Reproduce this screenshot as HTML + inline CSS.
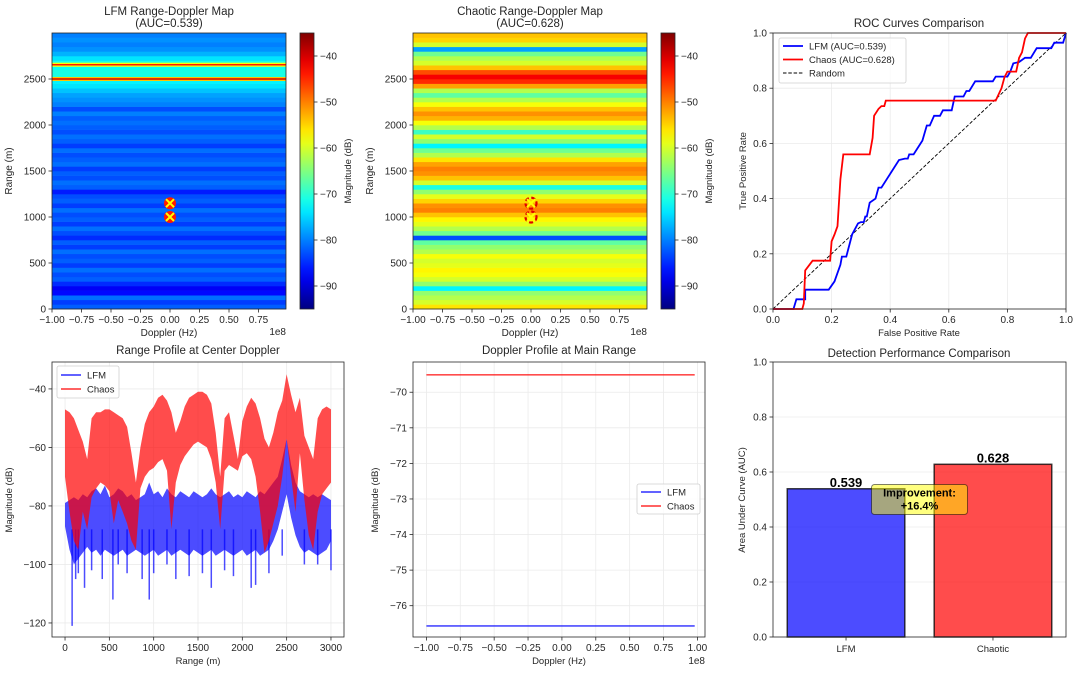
<!DOCTYPE html>
<html><head><meta charset="utf-8"><title>Radar comparison</title>
<style>html,body{margin:0;padding:0;background:#fff}svg{display:block;font-family:"Liberation Sans","DejaVu Sans",sans-serif}</style>
</head><body>
<svg id="fig" width="1080" height="673" viewBox="0 0 1080 673" xmlns="http://www.w3.org/2000/svg">
<defs id="defs"></defs>
</svg>
<script>
// ---------- DATA ----------
const lfmRowStart = 0, rowStep = 50;
const lfmRows = [-82,-84,-81,-87,-88,-85,-82,-83,-81,-84,-82,-83,-81,-84,-82,-85,-83,-81,-84,-82,-83,-81,-84,-82,-83,-86,-82,-81,-83,-82,-84,-81,-82,-83,-81,-84,-82,-81,-83,-82,-81,-82,-80,-83,-80,-79,-78,-76,-74,-73,-71,-71,-72,-71,-74,-77,-79,-80,-79,-80];
const lfmPeakRanges = [2500, 2655];
const lfmPeakDb = [-40, -44];
const chaosRows = [-56,-60,-62,-64,-73,-64,-60,-58,-57,-59,-60,-58,-62,-64,-67,-83,-66,-62,-59,-57,-54,-50,-51,-55,-59,-64,-71,-60,-54,-51,-50,-52,-56,-62,-66,-73,-64,-60,-69,-62,-58,-53,-51,-54,-58,-62,-67,-62,-52,-45,-42,-47,-54,-60,-62,-66,-78,-60,-55,-54];
const targetRanges = [1000, 1150];
const targetDoppler = [0, 0];

const rocLfmFpr = [0,0.07,0.08,0.11,0.11,0.19,0.21,0.23,0.235,0.25,0.27,0.29,0.3,0.31,0.315,0.32,0.33,0.35,0.36,0.37,0.43,0.45,0.46,0.465,0.48,0.51,0.525,0.535,0.55,0.57,0.58,0.61,0.62,0.65,0.66,0.67,0.69,0.75,0.76,0.8,0.81,0.82,0.84,0.86,0.88,0.9,0.95,0.96,0.99,1];
const rocLfmTpr = [0,0,0.035,0.035,0.07,0.07,0.1,0.16,0.19,0.19,0.27,0.31,0.315,0.315,0.335,0.335,0.385,0.4,0.44,0.44,0.54,0.545,0.545,0.56,0.56,0.61,0.665,0.665,0.7,0.7,0.72,0.72,0.77,0.77,0.79,0.79,0.825,0.825,0.842,0.842,0.86,0.89,0.895,0.91,0.91,0.945,0.945,0.965,0.965,1];
const rocChaosFpr = [0,0.1,0.105,0.11,0.135,0.195,0.2,0.21,0.22,0.23,0.24,0.33,0.34,0.345,0.36,0.37,0.38,0.385,0.76,0.78,0.79,0.8,0.83,0.84,0.85,0.86,0.87,1];
const rocChaosTpr = [0,0,0.02,0.14,0.175,0.175,0.245,0.27,0.3,0.47,0.56,0.56,0.62,0.7,0.725,0.735,0.735,0.755,0.755,0.8,0.84,0.86,0.86,0.91,0.93,0.98,1,1];

const profRangeStart = 0, profStep = 50;
const chaosUpper = [-47,-48,-50,-54,-58,-64,-50,-48,-48,-47,-47,-48,-49,-50,-53,-62,-72,-60,-52,-48,-46,-43,-42,-44,-48,-55,-51,-46,-43,-42,-41,-41,-42,-45,-55,-70,-50,-48,-56,-64,-51,-46,-43,-45,-50,-57,-60,-55,-48,-44,-35,-42,-48,-43,-56,-60,-64,-50,-47,-46,-47];
const chaosLower = [-70,-82,-92,-95,-82,-88,-77,-74,-72,-73,-75,-86,-78,-82,-86,-92,-95,-74,-70,-68,-67,-65,-64,-68,-88,-72,-66,-63,-61,-59,-58,-59,-60,-64,-72,-88,-68,-66,-67,-68,-63,-62,-64,-70,-82,-96,-92,-86,-80,-70,-57,-70,-82,-62,-78,-90,-95,-82,-76,-74,-72];
const lfmUpper = [-79,-78,-77,-78,-76,-77,-75,-74,-76,-73,-77,-76,-74,-75,-77,-76,-78,-77,-76,-72,-76,-75,-77,-74,-76,-77,-75,-76,-77,-75,-76,-77,-76,-74,-76,-77,-76,-75,-77,-76,-77,-75,-76,-77,-75,-76,-74,-72,-70,-64,-57,-66,-72,-75,-76,-77,-76,-77,-76,-77,-78];
const lfmLower = [-87,-95,-100,-98,-96,-94,-96,-95,-97,-95,-96,-97,-96,-95,-97,-96,-95,-96,-97,-96,-95,-97,-96,-95,-97,-96,-95,-96,-97,-95,-96,-97,-96,-95,-97,-96,-95,-96,-97,-96,-95,-97,-96,-95,-97,-96,-95,-92,-88,-82,-76,-84,-90,-94,-96,-95,-96,-97,-96,-95,-92];
const lfmDipRanges = [80,120,150,220,300,420,540,600,700,870,950,1000,1150,1250,1400,1550,1650,1800,1900,2100,2150,2300,2450,2700,2850,3000];
const lfmDipDb = [-121,-105,-103,-108,-102,-105,-112,-100,-103,-105,-112,-103,-100,-105,-104,-103,-108,-102,-104,-108,-107,-103,-97,-100,-100,-102];

const dopplerX = [-1.0, 0.98];
const dopplerLfm = [-76.57, -76.57];
const dopplerChaos = [-69.51, -69.51];

const barCategories = ['LFM', 'Chaotic'];
const barValues = [0.539, 0.628];
const improvementText = ['Improvement:', '+16.4%'];

// ---------- helpers ----------
const NS = 'http://www.w3.org/2000/svg';
const svg = document.getElementById('fig');
const defs = document.getElementById('defs');
function el(tag, attrs, name, parent) {
  const e = document.createElementNS(NS, tag);
  for (const k in attrs) e.setAttribute(k, attrs[k]);
  
  
  (parent || svg).appendChild(e);
  return e;
}
function txt(x, y, s, name, o) {
  o = o || {};
  const a = {x: x, y: y, 'font-size': o.size || 10, fill: o.fill || '#262626', 'text-anchor': o.anchor || 'middle'};
  if (o.weight) a['font-weight'] = o.weight;
  if (o.rot) a.transform = 'rotate(' + o.rot + ' ' + x + ' ' + y + ')';
  const t = el('text', a, name);
  t.textContent = s;
  return t;
}
const M = v => (v < 0 ? '\u2212' : '') + Math.abs(v);
function fmt(v, d) { const s = Math.abs(v).toFixed(d); return (v < -1e-9 ? '\u2212' : '') + s; }
function jet(t) {
  t = Math.max(0, Math.min(1, t));
  const c = x => Math.round(255 * Math.max(0, Math.min(1, x)));
  return 'rgb(' + c(1.5 - Math.abs(4 * t - 3)) + ',' + c(1.5 - Math.abs(4 * t - 2)) + ',' + c(1.5 - Math.abs(4 * t - 1)) + ')';
}
const vmin = -95, vmax = -35;
const cmap = v => jet((v - vmin) / (vmax - vmin));
function scales(box, xd, yd) {
  return {
    sx: v => box.l + (v - xd[0]) / (xd[1] - xd[0]) * (box.r - box.l),
    sy: v => box.b - (v - yd[0]) / (yd[1] - yd[0]) * (box.b - box.t)
  };
}
function grid(p, box, s, xt, yt) {
  xt.forEach(v => el('line', {x1: s.sx(v), x2: s.sx(v), y1: box.t, y2: box.b, stroke: '#ebebeb', 'stroke-width': 0.8}, p + '-x-grid'));
  yt.forEach(v => el('line', {x1: box.l, x2: box.r, y1: s.sy(v), y2: s.sy(v), stroke: '#ebebeb', 'stroke-width': 0.8}, p + '-y-grid'));
}
function frame(p, box, s, xt, yt, xf, yf) {
  el('rect', {x: box.l, y: box.t, width: box.r - box.l, height: box.b - box.t, fill: 'none', stroke: '#262626', 'stroke-width': 0.8}, p + '-frame');
  xt.forEach(v => {
    const x = s.sx(v);
    el('line', {x1: x, x2: x, y1: box.b, y2: box.b + 3.5, stroke: '#262626', 'stroke-width': 0.8}, p + '-x-tick');
    txt(x, box.b + 14, xf(v), p + '-x-tick-label');
  });
  yt.forEach(v => {
    const y = s.sy(v);
    el('line', {x1: box.l, x2: box.l - 3.5, y1: y, y2: y, stroke: '#262626', 'stroke-width': 0.8}, p + '-y-tick');
    txt(box.l - 6, y + 3.5, yf(v), p + '-y-tick-label', {anchor: 'end'});
  });
}
const range = (a, b, st) => { const r = []; for (let v = a; v <= b + 1e-9; v += st) r.push(+v.toFixed(6)); return r; };

const grad = el('linearGradient', {id: 'jetgrad', x1: 0, y1: 1, x2: 0, y2: 0}, 'jet-gradient', defs);
for (let i = 0; i <= 20; i++) el('stop', {offset: i / 20, 'stop-color': jet(i / 20)}, 'gradient-stop', grad);

// ---------- heatmap panels ----------
function heatmap(p, box, rows, title, cbx, peaksR, peaksD, dashed) {
  const s = scales(box, [-1, 0.983], [0, 3000]);
  rows.forEach((v, i) => {
    const r0 = lfmRowStart + i * rowStep;
    el('rect', {x: box.l, y: s.sy(r0 + rowStep), width: box.r - box.l, height: s.sy(r0) - s.sy(r0 + rowStep) + 0.3, fill: cmap(v)}, p + '-row');
  });
  peaksR.forEach((r, i) => {
    el('rect', {x: box.l, y: s.sy(r + 22), width: box.r - box.l, height: s.sy(r - 22) - s.sy(r + 22), fill: cmap(peaksD[i] - 14)}, p + '-peak-halo');
    el('rect', {x: box.l, y: s.sy(r + 8), width: box.r - box.l, height: s.sy(r - 8) - s.sy(r + 8), fill: cmap(peaksD[i])}, p + '-peak-line');
  });
  targetRanges.forEach((r, i) => {
    const cx = s.sx(targetDoppler[i]), cy = s.sy(r);
    if (dashed) el('circle', {cx: cx, cy: cy, r: 5.5, fill: 'none', stroke: '#e00000', 'stroke-width': 2.2, 'stroke-dasharray': '4 2.5'}, p + '-target-circle');
    else el('circle', {cx: cx, cy: cy, r: 6, fill: '#ff1a00'}, p + '-target-circle');
    el('path', {d: 'M' + (cx - 4) + ' ' + (cy - 4) + 'L' + (cx + 4) + ' ' + (cy + 4) + 'M' + (cx + 4) + ' ' + (cy - 4) + 'L' + (cx - 4) + ' ' + (cy + 4), stroke: '#ffff00', 'stroke-width': 2}, p + '-target-x');
  });
  frame(p, box, s, range(-1, 0.75, 0.25), range(0, 2500, 500), v => fmt(v, 2), v => String(v));
  txt(box.r, box.b + 26, '1e8', p + '-x-offset', {anchor: 'end'});
  txt((box.l + box.r) / 2, box.b + 27, 'Doppler (Hz)', p + '-x-axis-title');
  txt(box.l - 40, (box.t + box.b) / 2, 'Range (m)', p + '-y-axis-title', {rot: -90});
  txt((box.l + box.r) / 2, 15, title, p + '-title', {size: 11.5});
  txt((box.l + box.r) / 2, 27, '(AUC=' + (p === 'lfm-map' ? barValues[0] : barValues[1]).toFixed(3) + ')', p + '-subtitle', {size: 11.5});
  el('rect', {x: cbx, y: box.t, width: 14, height: box.b - box.t, fill: 'url(#jetgrad)', stroke: '#262626', 'stroke-width': 0.8}, p + '-colorbar');
  const cs = v => box.b - (v - vmin) / (vmax - vmin) * (box.b - box.t);
  [-90, -80, -70, -60, -50, -40].forEach(v => {
    el('line', {x1: cbx + 14, x2: cbx + 17.5, y1: cs(v), y2: cs(v), stroke: '#262626', 'stroke-width': 0.8}, p + '-colorbar-tick');
    txt(cbx + 20, cs(v) + 3.5, M(v), p + '-colorbar-tick-label', {anchor: 'start'});
  });
  txt(cbx + 51, (box.t + box.b) / 2, 'Magnitude (dB)', p + '-colorbar-title', {rot: -90, size: 9.5});
}
heatmap('lfm-map', {l: 52, t: 33, r: 286, b: 309}, lfmRows, 'LFM Range-Doppler Map', 300, lfmPeakRanges, lfmPeakDb, false);
heatmap('chaos-map', {l: 413, t: 33, r: 647, b: 309}, chaosRows, 'Chaotic Range-Doppler Map', 661, [], [], true);

// ---------- ROC ----------
(function () {
  const p = 'roc', box = {l: 773, t: 33, r: 1066, b: 309};
  const s = scales(box, [0, 1], [0, 1]);
  const t = range(0, 1, 0.2);
  grid(p, box, s, t, t);
  el('line', {x1: s.sx(0), y1: s.sy(0), x2: s.sx(1), y2: s.sy(1), stroke: '#000', 'stroke-width': 0.9, 'stroke-dasharray': '3.5 1.8'}, 'roc-random-line');
  const pl = (xs, ys) => xs.map((v, i) => s.sx(v).toFixed(1) + ',' + s.sy(ys[i]).toFixed(1)).join(' ');
  el('polyline', {points: pl(rocLfmFpr, rocLfmTpr), fill: 'none', stroke: '#0000ff', 'stroke-width': 1.8}, 'roc-lfm-curve');
  el('polyline', {points: pl(rocChaosFpr, rocChaosTpr), fill: 'none', stroke: '#ff0000', 'stroke-width': 1.8}, 'roc-chaos-curve');
  frame(p, box, s, t, t, v => v.toFixed(1), v => v.toFixed(1));
  txt(919, 27, 'ROC Curves Comparison', 'roc-title', {size: 11.5});
  txt(919, 336, 'False Positive Rate', 'roc-x-axis-title', {size: 9.5});
  txt(746, 171, 'True Positive Rate', 'roc-y-axis-title', {rot: -90, size: 9.5});
  el('rect', {x: 779, y: 38, width: 127, height: 45, rx: 2, fill: '#fff', 'fill-opacity': 0.8, stroke: '#d0d0d0', 'stroke-width': 0.8}, 'roc-legend');
  const L = [['LFM (AUC=0.539)', '#0000ff', null], ['Chaos (AUC=0.628)', '#ff0000', null], ['Random', '#000', '3.5 1.8']];
  L.forEach((e, i) => {
    const y = 46 + i * 13.5;
    const a = {x1: 783, x2: 803, y1: y, y2: y, stroke: e[1], 'stroke-width': e[2] ? 0.9 : 1.8};
    if (e[2]) a['stroke-dasharray'] = e[2];
    el('line', a, 'roc-legend-swatch');
    txt(809, y + 3.5, e[0], 'roc-legend-label', {anchor: 'start', size: 9.5});
  });
})();

// ---------- Range profile ----------
(function () {
  const p = 'range-profile', box = {l: 52, t: 362, r: 344, b: 637};
  const s = scales(box, [-147, 3147], [-124.8, -30.8]);
  const xt = range(0, 3000, 500), yt = range(-120, -40, 20);
  grid(p, box, s, xt, yt);
  const band = (up, lo, step) => {
    let d = '';
    up.forEach((v, i) => { d += (i ? 'L' : 'M') + s.sx(i * step).toFixed(1) + ' ' + s.sy(v).toFixed(1); });
    for (let i = lo.length - 1; i >= 0; i--) d += 'L' + s.sx(i * step).toFixed(1) + ' ' + s.sy(lo[i]).toFixed(1);
    return d + 'Z';
  };
  el('path', {d: band(lfmUpper, lfmLower, profStep), fill: '#0000ff', 'fill-opacity': 0.7}, 'lfm-profile-band');
  lfmDipRanges.forEach((r, i) => {
    el('line', {x1: s.sx(r), x2: s.sx(r), y1: s.sy(-88), y2: s.sy(lfmDipDb[i]), stroke: '#0000ff', 'stroke-opacity': 0.7, 'stroke-width': 1.5}, 'lfm-profile-dip');
  });
  el('path', {d: band(chaosUpper, chaosLower, profStep), fill: '#ff0000', 'fill-opacity': 0.7}, 'chaos-profile-band');
  frame(p, box, s, xt, yt, v => String(v), v => M(v));
  txt(198, 354, 'Range Profile at Center Doppler', p + '-title', {size: 11.5});
  txt(198, 664, 'Range (m)', p + '-x-axis-title', {size: 9.5});
  txt(12, 500, 'Magnitude (dB)', p + '-y-axis-title', {rot: -90, size: 9.5});
  el('rect', {x: 57, y: 366, width: 62, height: 32, rx: 2, fill: '#fff', 'fill-opacity': 0.8, stroke: '#d0d0d0', 'stroke-width': 0.8}, p + '-legend');
  [['LFM', '#0000ff'], ['Chaos', '#ff0000']].forEach((e, i) => {
    const y = 375 + i * 14;
    el('line', {x1: 61, x2: 81, y1: y, y2: y, stroke: e[1], 'stroke-opacity': 0.7, 'stroke-width': 1.8}, p + '-legend-swatch');
    txt(87, y + 3.5, e[0], p + '-legend-label', {anchor: 'start', size: 9.5});
  });
})();

// ---------- Doppler profile ----------
(function () {
  const p = 'doppler-profile', box = {l: 413, t: 362, r: 705, b: 637};
  const s = scales(box, [-1.099, 1.056], [-76.88, -69.15]);
  const xt = range(-1, 1, 0.25), yt = range(-76, -70, 1);
  grid(p, box, s, xt, yt);
  el('line', {x1: s.sx(dopplerX[0]), x2: s.sx(dopplerX[1]), y1: s.sy(dopplerLfm[0]), y2: s.sy(dopplerLfm[1]), stroke: '#0000ff', 'stroke-opacity': 0.7, 'stroke-width': 1.6}, 'lfm-doppler-line');
  el('line', {x1: s.sx(dopplerX[0]), x2: s.sx(dopplerX[1]), y1: s.sy(dopplerChaos[0]), y2: s.sy(dopplerChaos[1]), stroke: '#ff0000', 'stroke-opacity': 0.7, 'stroke-width': 1.6}, 'chaos-doppler-line');
  frame(p, box, s, xt, yt, v => fmt(v, 2), v => M(v));
  txt(705, 664, '1e8', p + '-x-offset', {anchor: 'end'});
  txt(559, 354, 'Doppler Profile at Main Range', p + '-title', {size: 11.5});
  txt(559, 664, 'Doppler (Hz)', p + '-x-axis-title', {size: 9.5});
  txt(378, 500, 'Magnitude (dB)', p + '-y-axis-title', {rot: -90, size: 9.5});
  el('rect', {x: 637, y: 484, width: 63, height: 30, rx: 2, fill: '#fff', 'fill-opacity': 0.8, stroke: '#d0d0d0', 'stroke-width': 0.8}, p + '-legend');
  [['LFM', '#0000ff'], ['Chaos', '#ff0000']].forEach((e, i) => {
    const y = 492 + i * 14;
    el('line', {x1: 641, x2: 661, y1: y, y2: y, stroke: e[1], 'stroke-opacity': 0.7, 'stroke-width': 1.8}, p + '-legend-swatch');
    txt(667, y + 3.5, e[0], p + '-legend-label', {anchor: 'start', size: 9.5});
  });
})();

// ---------- Bar chart ----------
(function () {
  const p = 'detection-bars', box = {l: 773, t: 362, r: 1066, b: 637};
  const s = scales(box, [-0.497, 1.497], [0, 1]);
  const yt = range(0, 1, 0.2);
  grid(p, box, s, [], yt);
  const cols = ['#0000ff', '#ff0000'];
  barValues.forEach((v, i) => {
    el('rect', {x: s.sx(i - 0.4), y: s.sy(v), width: s.sx(i + 0.4) - s.sx(i - 0.4), height: s.sy(0) - s.sy(v), fill: cols[i], 'fill-opacity': 0.7, stroke: '#000', 'stroke-opacity': 0.75, 'stroke-width': 1.5}, 'bar-' + barCategories[i].toLowerCase());
    txt(s.sx(i), s.sy(v) - 2, v.toFixed(3), 'bar-value-label', {size: 13, weight: 'bold', fill: '#000'});
  });
  const ax = s.sx(0.5), ay = s.sy(0.5);
  el('rect', {x: ax - 48, y: ay - 15, width: 96, height: 30, rx: 3, fill: '#ffff00', 'fill-opacity': 0.5, stroke: '#000', 'stroke-opacity': 0.5, 'stroke-width': 1}, 'improvement-box');
  txt(ax, ay - 3, improvementText[0], 'improvement-label', {size: 11, weight: 'bold', fill: '#000'});
  txt(ax, ay + 10, improvementText[1], 'improvement-value', {size: 11, weight: 'bold', fill: '#000'});
  el('rect', {x: box.l, y: box.t, width: box.r - box.l, height: box.b - box.t, fill: 'none', stroke: '#262626', 'stroke-width': 0.8}, p + '-frame');
  barCategories.forEach((c, i) => {
    el('line', {x1: s.sx(i), x2: s.sx(i), y1: box.b, y2: box.b + 3.5, stroke: '#262626', 'stroke-width': 0.8}, p + '-x-tick');
    txt(s.sx(i), box.b + 15, c, p + '-x-tick-label', {size: 9.5});
  });
  yt.forEach(v => {
    el('line', {x1: box.l, x2: box.l - 3.5, y1: s.sy(v), y2: s.sy(v), stroke: '#262626', 'stroke-width': 0.8}, p + '-y-tick');
    txt(box.l - 6, s.sy(v) + 3.5, v.toFixed(1), p + '-y-tick-label', {anchor: 'end'});
  });
  txt(919, 357, 'Detection Performance Comparison', p + '-title', {size: 11.5});
  txt(745, 500, 'Area Under Curve (AUC)', p + '-y-axis-title', {rot: -90, size: 9.5});
})();
</script>
</body></html>
